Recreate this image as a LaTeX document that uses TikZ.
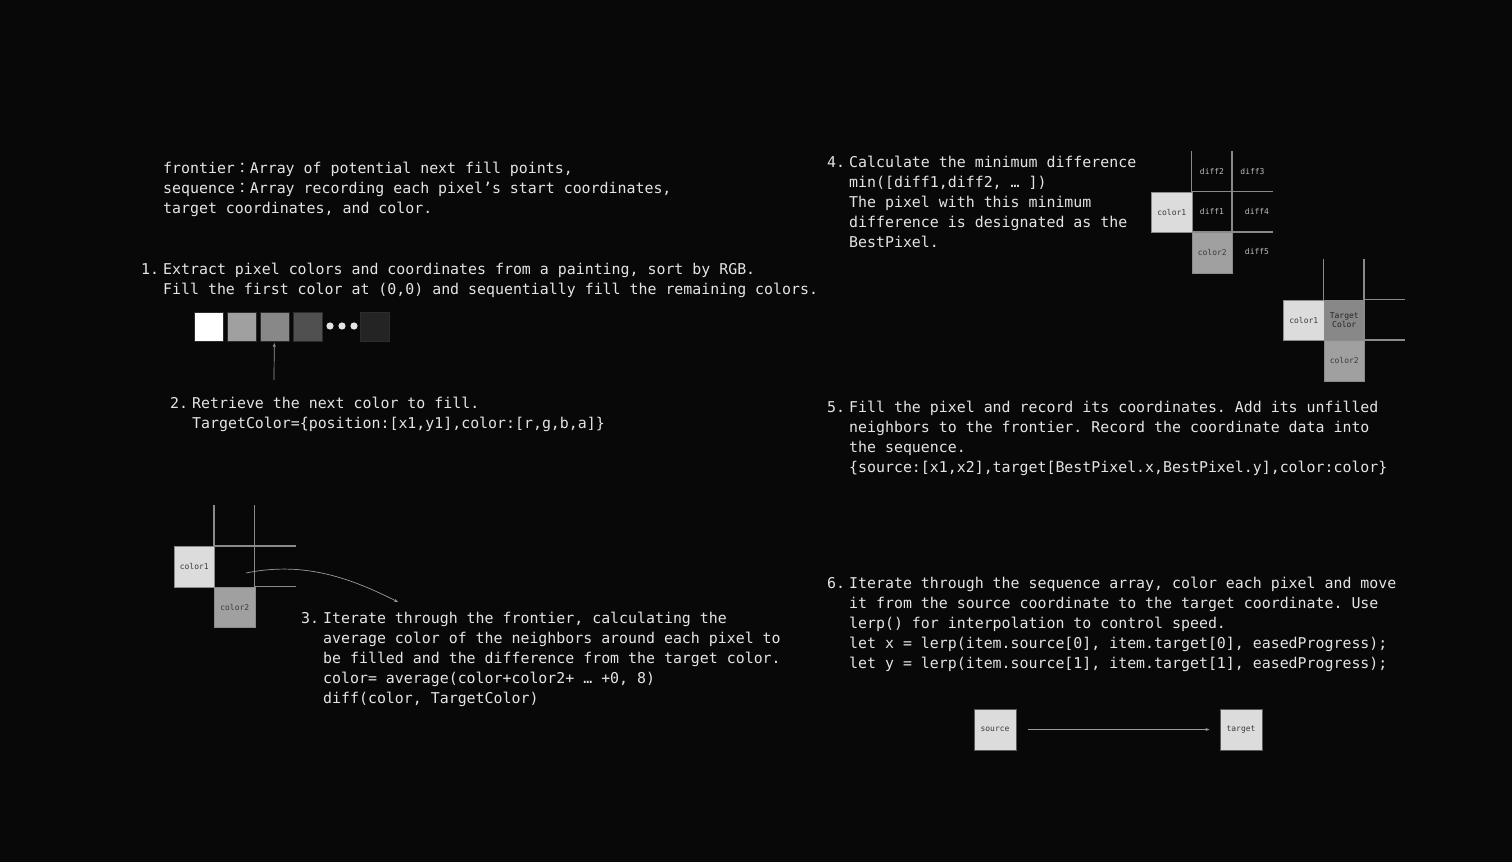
\documentclass[tikz,border=0pt]{standalone}
\usepackage{fontspec}
\newfontfamily\mono{DejaVu Sans Mono}
\newfontfamily\cjk{Noto Sans CJK TC}
\usetikzlibrary{arrows.meta}
\frenchspacing
\definecolor{bg}{HTML}{080808}
\definecolor{fg}{HTML}{E4E4E4}
\definecolor{gridc}{HTML}{8A8A8A}
\definecolor{lightc}{HTML}{DCDCDC}
\definecolor{midc}{HTML}{A0A0A0}
\definecolor{tgtc}{HTML}{888888}
\definecolor{darkc}{HTML}{505050}
\definecolor{darkerc}{HTML}{242424}
\definecolor{lblc}{HTML}{3A3A3A}
\definecolor{difc}{HTML}{BDBDBD}
\definecolor{arrc}{HTML}{9A9A9A}
\definecolor{sqedge}{HTML}{2C2C2C}
\definecolor{boxedge}{HTML}{5A5A5A}
\newcommand\fs{\rule{0pt}{13pt}}
\newcommand\fcolon{{\cjk ：}}
\tikzset{
  txt/.style={anchor=north west, inner sep=0, align=left, text=fg, font=\mono\fontsize{14.9}{20}\selectfont\frenchspacing},
  lbl/.style={font=\mono\fontsize{8}{9.5}\selectfont, text=lblc, inner sep=0, align=center},
  dlbl/.style={lbl, text=difc},
  cell/.style={lbl, minimum width=40.5pt, minimum height=40.5pt, draw=gridc, line width=1pt, anchor=north west},
  gl/.style={draw=gridc, line width=1.3pt},
  sq/.style={minimum size=29pt, inner sep=0, draw=sqedge, line width=0.6pt, anchor=north west},
  arr/.style={draw=arrc, line width=0.7pt, -{Stealth[length=4pt,width=3pt]}},
  endbox/.style={lbl, minimum width=42pt, minimum height=41pt, draw=boxedge, line width=1pt, fill=lightc, anchor=north west}
}
\begin{document}
\begin{tikzpicture}[x=1pt,y=-1pt]
\useasboundingbox (0,0) rectangle (1512,862);
\fill[bg] (0,0) rectangle (1512,862);

% ---------- block 0
\node[txt] (t0) at (163,160) {\fs frontier\fcolon Array of potential next fill points,\\
sequence\fcolon Array recording each pixel’s start coordinates,\\
target coordinates, and color.};

% ---------- block 1
\node[txt] (n1) at (141,261) {\fs 1.};
\node[txt] (t1) at (163,261) {\fs Extract pixel colors and coordinates from a painting, sort by RGB.\\
Fill the first color at (0,0) and sequentially fill the remaining colors.};

% squares
\node[sq, fill=white]   (sq1) at (193.5,312) {};
\node[sq, fill=midc]    (sq2) at (226.5,312) {};
\node[sq, fill=tgtc]    (sq3) at (259.5,312) {};
\node[sq, fill=darkc]   (sq4) at (292.5,312) {};
\fill[fg] (330,326) circle (3.6) (342,326) circle (3.6) (354,326) circle (3.6);
\node[sq, fill=darkerc] (sq5) at (359.5,312) {};

% ---------- block 2
\coordinate (a2) at (274,380);
\draw[arr, shorten >=1.5pt] (a2) -- (sq3.south);
\node[txt] (n2) at (170,395) {\fs 2.};
\node[txt] (t2) at (192,395) {\fs Retrieve the next color to fill.\\
TargetColor=\{position:[x1,y1],color:[r,g,b,a]\}};

% ---------- grid 3
\node[cell, fill=lightc] (g3a) at (173.5,546) {color1};
\node[cell, fill=midc]   (g3b) at (214,586.5) {color2};
\draw[gl] (214,505) -- (214,546);
\draw[gl] (254.5,505) -- (254.5,586.5);
\draw[gl] (214,546) -- (296,546);
\draw[gl] (254.5,586.5) -- (296,586.5);
\coordinate (c3s) at (246,573);
\coordinate (c3e) at (398,602);
\draw[arr] (c3s) .. controls (300,562) and (345,575) .. (c3e);

% ---------- block 3
\node[txt] (n3) at (301,610) {\fs 3.};
\node[txt] (t3) at (323,610) {\fs Iterate through the frontier, calculating the\\
average color of the neighbors around each pixel to\\
be filled and the difference from the target color.\\
color= average(color+color2+ … +0, 8)\\
diff(color, TargetColor)};

% ---------- block 4
\node[txt] (n4) at (827,154) {\fs 4.};
\node[txt] (t4) at (849,154) {\fs Calculate the minimum difference\\
min([diff1,diff2, … ])\\
The pixel with this minimum\\
difference is designated as the\\
BestPixel.};

% ---------- grid 4
\node[cell, fill=lightc] (g4a) at (1151,191.5) {color1};
\node[cell, fill=midc]   (g4b) at (1191.5,232) {color2};
\draw[gl] (1191.5,151) -- (1191.5,191.5);
\draw[gl] (1232,151) -- (1232,232);
\draw[gl] (1191.5,191.5) -- (1273,191.5);
\draw[gl] (1191.5,232) -- (1273,232);
\node[dlbl] (d2) at (1212,172) {diff2};
\node[dlbl] (d3) at (1252.5,172) {diff3};
\node[dlbl] (d1) at (1212,212) {diff1};
\node[dlbl] (d4) at (1257,212) {diff4};
\node[dlbl] (d5) at (1257,252) {diff5};

% ---------- grid 5
\node[cell, fill=lightc] (g5a) at (1283,299.5) {color1};
\node[cell, fill=tgtc, text=darkerc]   (g5t) at (1323.5,299.5) {Target\\Color};
\node[cell, fill=midc]   (g5b) at (1323.5,340) {color2};
\draw[gl] (1323.5,259) -- (1323.5,299.5);
\draw[gl] (1364,259) -- (1364,340);
\draw[gl] (1364,299.5) -- (1405,299.5);
\draw[gl] (1364,340) -- (1405,340);

% ---------- block 5
\node[txt] (n5) at (827,399) {\fs 5.};
\node[txt] (t5) at (849,399) {\fs Fill the pixel and record its coordinates. Add its unfilled\\
neighbors to the frontier. Record the coordinate data into\\
the sequence.\\
\{source:[x1,x2],target[BestPixel.x,BestPixel.y],color:color\}};

% ---------- block 6
\node[txt] (n6) at (827,575) {\fs 6.};
\node[txt] (t6) at (849,575) {\fs Iterate through the sequence array, color each pixel and move\\
it from the source coordinate to the target coordinate. Use\\
lerp() for interpolation to control speed.\\
let x = lerp(item.source[0], item.target[0], easedProgress);\\
let y = lerp(item.source[1], item.target[1], easedProgress);};

% source -> target
\node[endbox] (src) at (973.5,708.5) {source};
\node[endbox] (tgt) at (1219.5,708.5) {target};
\draw[arr, shorten <=11pt, shorten >=10pt] (src) -- (tgt);
\end{tikzpicture}
\end{document}
